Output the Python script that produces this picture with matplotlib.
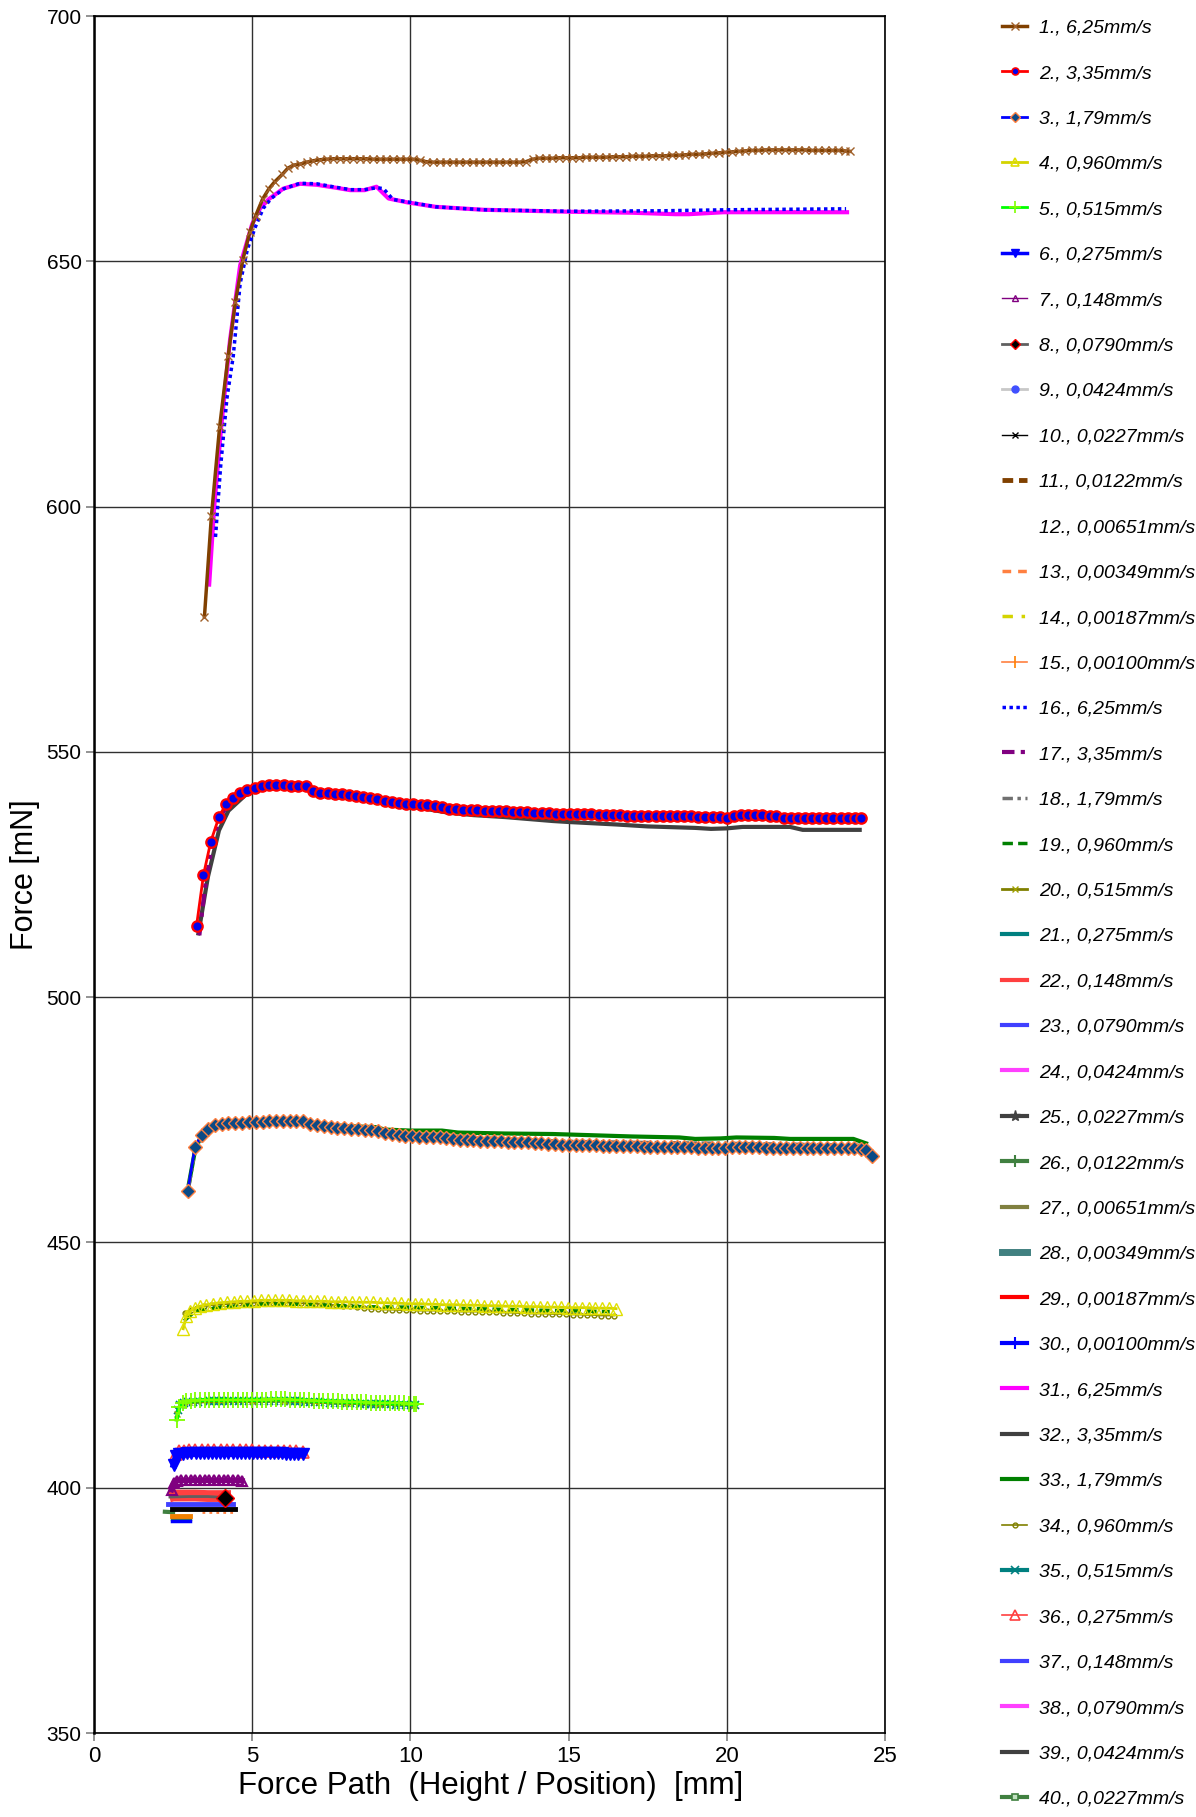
import matplotlib
matplotlib.use('Agg')
import matplotlib.pyplot as plt
from matplotlib.lines import Line2D

# ── Measured force curves: (path mm, force mN) ─────────────────────────

S1 = [(3.49, 577.5), (3.71, 598.0), (3.97, 616.2), (4.24, 630.7), (4.47, 641.8),
      (4.70, 650.2), (4.92, 655.9), (5.11, 659.3), (5.33, 662.7), (5.53, 664.8),
      (5.71, 666.2), (5.95, 667.7), (6.13, 669.0), (6.31, 669.6), (6.51, 669.8),
      (6.72, 670.2), (6.93, 670.5), (7.14, 670.7), (7.35, 670.8), (7.56, 670.9),
      (7.77, 670.9), (7.98, 670.9), (8.19, 670.9), (8.40, 670.9), (8.61, 670.9),
      (8.82, 670.8), (9.03, 670.8), (9.24, 670.8), (9.45, 670.8), (9.66, 670.8),
      (9.87, 670.8), (10.08, 670.8), (10.29, 670.6), (10.50, 670.3), (10.71, 670.2),
      (10.92, 670.2), (11.13, 670.2), (11.34, 670.2), (11.55, 670.2), (11.76, 670.2),
      (11.97, 670.2), (12.18, 670.2), (12.39, 670.2), (12.60, 670.2), (12.81, 670.2),
      (13.02, 670.2), (13.23, 670.2), (13.44, 670.2), (13.65, 670.3), (13.86, 670.8),
      (14.07, 671.0), (14.28, 671.0), (14.49, 671.0), (14.70, 671.1), (14.91, 671.1),
      (15.12, 671.1), (15.33, 671.1), (15.54, 671.2), (15.75, 671.2), (15.96, 671.2),
      (16.17, 671.2), (16.38, 671.3), (16.59, 671.3), (16.80, 671.3), (17.01, 671.4),
      (17.22, 671.4), (17.43, 671.4), (17.64, 671.5), (17.85, 671.5), (18.06, 671.5),
      (18.27, 671.6), (18.48, 671.6), (18.69, 671.7), (18.90, 671.8), (19.11, 671.8),
      (19.32, 671.9), (19.53, 672.0), (19.74, 672.1), (19.95, 672.2), (20.16, 672.3),
      (20.37, 672.4), (20.58, 672.5), (20.79, 672.6), (21.00, 672.6), (21.21, 672.7),
      (21.42, 672.7), (21.63, 672.7), (21.84, 672.7), (22.05, 672.7), (22.26, 672.7),
      (22.47, 672.7), (22.68, 672.6), (22.89, 672.6), (23.10, 672.6), (23.31, 672.6),
      (23.52, 672.6), (23.73, 672.5), (23.90, 672.4)]

S16 = [(3.84, 593.8), (4.00, 608.0), (4.20, 622.0), (4.40, 630.6), (4.62, 645.5),
       (4.85, 652.5), (5.10, 657.0), (5.35, 660.8), (5.60, 662.8), (6.00, 664.8),
       (6.51, 665.9), (7.04, 665.8), (7.64, 665.1), (8.10, 664.6), (8.55, 664.6),
       (8.95, 665.0), (9.15, 664.8), (9.45, 662.6), (9.91, 662.1), (10.80, 661.1),
       (12.30, 660.5), (15.00, 660.2), (18.00, 660.3), (20.00, 660.5), (23.77, 660.7)]

S31 = [(3.64, 584.1), (3.80, 600.0), (4.02, 616.2), (4.30, 634.0), (4.62, 649.2),
       (5.00, 657.6), (5.25, 660.8), (5.53, 662.7), (5.98, 664.8), (6.51, 665.8),
       (7.04, 665.6), (7.64, 665.0), (8.10, 664.5), (8.55, 664.5), (8.93, 665.2),
       (9.31, 662.8), (9.91, 662.0), (10.80, 661.1), (12.30, 660.5), (15.00, 660.1),
       (17.00, 659.9), (18.37, 659.6), (18.80, 659.6), (19.90, 660.0), (23.80, 660.0)]

S2 = [(3.24, 514.5), (3.46, 524.9), (3.69, 531.7), (3.95, 536.7), (4.17, 539.4),
      (4.40, 540.6), (4.62, 541.7), (4.85, 542.3), (5.08, 542.7), (5.30, 543.0),
      (5.53, 543.2), (5.75, 543.2), (6.01, 543.2), (6.24, 543.0), (6.46, 543.0),
      (6.69, 543.1), (6.93, 542.0), (7.15, 541.7), (7.38, 541.6), (7.61, 541.5),
      (7.83, 541.4), (8.06, 541.2), (8.28, 541.0), (8.51, 540.8), (8.73, 540.6),
      (8.96, 540.3), (9.19, 540.0), (9.41, 539.7), (9.64, 539.6), (9.86, 539.4),
      (10.09, 539.3), (10.32, 539.2), (10.54, 539.1), (10.77, 539.0), (10.99, 538.7),
      (11.22, 538.4), (11.45, 538.3), (11.67, 538.2), (11.90, 538.1), (12.12, 538.1),
      (12.35, 538.0), (12.57, 538.0), (12.80, 537.9), (13.02, 537.9), (13.25, 537.8),
      (13.47, 537.8), (13.70, 537.7), (13.92, 537.6), (14.15, 537.5), (14.37, 537.5),
      (14.60, 537.4), (14.82, 537.4), (15.05, 537.4), (15.27, 537.3), (15.50, 537.3),
      (15.72, 537.3), (15.95, 537.2), (16.17, 537.2), (16.40, 537.1), (16.62, 537.1),
      (16.85, 537.0), (17.07, 537.0), (17.30, 537.0), (17.52, 537.0), (17.75, 536.9),
      (17.97, 536.9), (18.20, 536.9), (18.42, 536.9), (18.65, 536.9), (18.87, 536.9),
      (19.10, 536.8), (19.32, 536.8), (19.55, 536.8), (19.77, 536.7), (20.00, 536.6),
      (20.22, 537.0), (20.45, 537.1), (20.67, 537.1), (20.90, 537.1), (21.12, 537.1),
      (21.35, 537.0), (21.57, 537.0), (21.80, 536.6), (22.02, 536.5), (22.25, 536.5),
      (22.47, 536.5), (22.70, 536.5), (22.92, 536.5), (23.15, 536.5), (23.37, 536.5),
      (23.60, 536.5), (23.82, 536.5), (24.05, 536.5), (24.25, 536.5)]

S17 = [(3.33, 512.6), (3.50, 522.0), (3.75, 532.0), (4.00, 537.0), (4.40, 540.5),
       (5.00, 542.6), (6.00, 543.1), (6.70, 543.0), (7.00, 541.9), (10.00, 539.3),
       (15.00, 537.3), (20.00, 536.7), (24.20, 536.5)]

S32 = [(3.30, 513.0), (3.60, 524.5), (3.95, 534.0), (4.25, 538.0), (4.77, 541.1),
       (5.30, 542.6), (6.00, 543.1), (6.69, 543.0), (6.93, 542.0), (8.00, 541.0),
       (9.00, 540.0), (10.00, 538.9), (11.20, 537.6), (12.00, 537.1), (13.00, 536.7),
       (14.50, 535.9), (15.00, 535.7), (16.50, 535.2), (17.50, 534.8), (19.00, 534.5),
       (19.50, 534.3), (20.00, 534.4), (20.50, 534.7), (22.00, 534.7), (22.40, 534.1),
       (24.20, 534.1)]

S3 = [(2.96, 460.4), (3.19, 469.4), (3.40, 472.0), (3.61, 473.2), (3.82, 473.9),
      (4.04, 474.2), (4.25, 474.3), (4.47, 474.4), (4.68, 474.4), (4.90, 474.5),
      (5.11, 474.5), (5.33, 474.6), (5.54, 474.7), (5.76, 474.7), (5.97, 474.8),
      (6.19, 474.8), (6.40, 474.8), (6.62, 474.7), (6.83, 474.2), (7.05, 473.9),
      (7.26, 473.7), (7.48, 473.5), (7.69, 473.4), (7.91, 473.3), (8.12, 473.2),
      (8.34, 473.1), (8.55, 473.0), (8.77, 472.9), (8.98, 472.7), (9.20, 472.3),
      (9.41, 472.1), (9.63, 471.9), (9.84, 471.7), (10.06, 471.6), (10.27, 471.5),
      (10.49, 471.5), (10.70, 471.5), (10.92, 471.5), (11.13, 471.3), (11.35, 471.0),
      (11.56, 470.9), (11.78, 470.8), (11.99, 470.8), (12.21, 470.7), (12.42, 470.7),
      (12.64, 470.6), (12.85, 470.6), (13.07, 470.5), (13.28, 470.5), (13.50, 470.4),
      (13.71, 470.4), (13.93, 470.3), (14.14, 470.2), (14.36, 470.1), (14.57, 470.0),
      (14.79, 469.9), (15.00, 469.9), (15.22, 469.8), (15.43, 469.8), (15.65, 469.8),
      (15.86, 469.8), (16.08, 469.7), (16.29, 469.7), (16.51, 469.7), (16.72, 469.6),
      (16.94, 469.6), (17.15, 469.6), (17.37, 469.5), (17.58, 469.5), (17.80, 469.5),
      (18.01, 469.5), (18.23, 469.4), (18.44, 469.4), (18.66, 469.4), (18.87, 469.4),
      (19.09, 469.3), (19.30, 469.3), (19.52, 469.3), (19.73, 469.3), (19.95, 469.3),
      (20.16, 469.5), (20.38, 469.5), (20.59, 469.5), (20.81, 469.4), (21.02, 469.4),
      (21.24, 469.3), (21.45, 469.3), (21.67, 469.2), (21.88, 469.2), (22.10, 469.2),
      (22.31, 469.2), (22.53, 469.2), (22.74, 469.2), (22.96, 469.2), (23.17, 469.2),
      (23.39, 469.2), (23.60, 469.2), (23.82, 469.2), (24.03, 469.2), (24.25, 469.1),
      (24.40, 468.8), (24.58, 467.6)]

S18 = [(3.00, 461.5), (3.20, 469.0), (3.60, 473.0), (4.50, 474.4), (6.50, 474.8),
       (7.00, 474.0), (9.00, 472.8), (10.50, 471.9), (13.00, 471.1), (15.00, 470.6),
       (17.00, 470.4), (20.00, 470.2), (24.30, 469.8)]

S33 = [(3.00, 462.0), (3.20, 469.0), (3.40, 471.8), (3.80, 473.6), (4.50, 474.3),
       (5.50, 474.6), (6.60, 474.7), (7.00, 474.2), (8.00, 473.7), (8.90, 473.5),
       (9.20, 473.0), (10.00, 472.8), (11.00, 472.8), (11.50, 472.4), (13.00, 472.2),
       (14.50, 472.1), (15.50, 471.9), (17.00, 471.6), (18.50, 471.4), (19.00, 471.1),
       (19.80, 471.2), (20.30, 471.4), (21.50, 471.3), (22.00, 471.1), (24.00, 471.1),
       (24.40, 470.2)]

S4 = [(2.82, 432.4), (2.92, 435.0), (3.03, 436.0), (3.18, 436.6), (3.35, 437.0),
      (3.55, 437.3), (3.75, 437.5), (3.97, 437.7), (4.19, 437.8), (4.41, 437.9),
      (4.63, 438.0), (4.85, 438.0), (5.07, 438.1), (5.29, 438.2), (5.51, 438.2),
      (5.73, 438.2), (5.95, 438.2), (6.17, 438.2), (6.39, 438.1), (6.61, 438.1),
      (6.83, 438.0), (7.05, 438.0), (7.27, 438.0), (7.49, 437.9), (7.71, 437.9),
      (7.93, 437.9), (8.15, 437.8), (8.37, 437.8), (8.59, 437.8), (8.81, 437.8),
      (9.03, 437.7), (9.25, 437.7), (9.47, 437.6), (9.69, 437.6), (9.91, 437.5),
      (10.13, 437.5), (10.35, 437.5), (10.57, 437.4), (10.79, 437.4), (11.01, 437.3),
      (11.23, 437.3), (11.45, 437.3), (11.67, 437.2), (11.89, 437.2), (12.11, 437.2),
      (12.33, 437.1), (12.55, 437.1), (12.77, 437.1), (12.99, 437.0), (13.21, 437.0),
      (13.43, 437.0), (13.65, 436.9), (13.87, 436.9), (14.09, 436.9), (14.31, 436.8),
      (14.53, 436.8), (14.75, 436.8), (14.97, 436.7), (15.19, 436.7), (15.41, 436.7),
      (15.63, 436.7), (15.85, 436.6), (16.07, 436.6), (16.29, 436.6), (16.50, 436.5)]

S19 = [(2.85, 434.0), (3.20, 436.0), (4.00, 436.8), (5.50, 437.5), (7.00, 437.3),
       (8.50, 436.9), (10.00, 436.8), (12.00, 436.5), (14.00, 436.2), (16.30, 435.9)]

S34 = [(2.87, 435.6), (3.05, 436.3), (3.25, 436.7), (3.47, 437.0), (3.69, 437.2),
       (3.91, 437.3), (4.13, 437.4), (4.35, 437.5), (4.57, 437.6), (4.79, 437.6),
       (5.01, 437.7), (5.23, 437.7), (5.45, 437.7), (5.67, 437.7), (5.89, 437.7),
       (6.11, 437.7), (6.33, 437.7), (6.55, 437.6), (6.77, 437.6), (6.99, 437.5),
       (7.21, 437.4), (7.43, 437.3), (7.65, 437.2), (7.87, 437.1), (8.09, 437.0),
       (8.31, 436.8), (8.53, 436.6), (8.75, 436.5), (8.97, 436.4), (9.19, 436.3),
       (9.41, 436.3), (9.63, 436.2), (9.85, 436.2), (10.07, 436.2), (10.29, 436.1),
       (10.51, 436.1), (10.73, 436.1), (10.95, 436.0), (11.17, 436.0), (11.39, 436.0),
       (11.61, 435.9), (11.83, 435.9), (12.05, 435.9), (12.27, 435.8), (12.49, 435.8),
       (12.71, 435.8), (12.93, 435.7), (13.15, 435.7), (13.37, 435.6), (13.59, 435.6),
       (13.81, 435.5), (14.03, 435.5), (14.25, 435.5), (14.47, 435.4), (14.69, 435.4),
       (14.91, 435.4), (15.13, 435.3), (15.35, 435.3), (15.57, 435.2), (15.79, 435.2),
       (16.01, 435.1), (16.23, 435.1), (16.45, 435.1)]

S5 = [(2.61, 413.9), (2.70, 416.4), (2.80, 417.3), (2.92, 417.6), (3.05, 417.7),
      (3.20, 417.8), (3.35, 417.8), (3.50, 417.9), (3.65, 417.9), (3.80, 417.9),
      (3.95, 417.9), (4.10, 417.9), (4.25, 417.9), (4.40, 417.9), (4.55, 417.9),
      (4.70, 417.9), (4.85, 417.9), (5.00, 417.9), (5.15, 417.9), (5.30, 417.9),
      (5.45, 417.9), (5.60, 418.0), (5.75, 418.0), (5.90, 418.0), (6.05, 418.0),
      (6.20, 417.9), (6.35, 417.9), (6.50, 417.9), (6.65, 417.8), (6.80, 417.8),
      (6.95, 417.7), (7.10, 417.7), (7.25, 417.7), (7.40, 417.6), (7.55, 417.6),
      (7.70, 417.6), (7.85, 417.5), (8.00, 417.5), (8.15, 417.5), (8.30, 417.4),
      (8.45, 417.4), (8.60, 417.4), (8.75, 417.3), (8.90, 417.3), (9.05, 417.3),
      (9.20, 417.3), (9.35, 417.2), (9.50, 417.2), (9.65, 417.2), (9.80, 417.2),
      (9.95, 417.1), (10.10, 417.1), (10.19, 417.1)]

S20 = [(2.63, 415.0), (2.75, 416.9), (3.00, 417.4), (4.00, 417.6), (5.00, 417.6),
       (6.00, 417.7), (7.00, 417.4), (8.00, 417.2), (9.00, 417.0), (10.10, 416.9)]

S35 = [(2.64, 415.8), (2.72, 416.8), (2.84, 417.2), (2.98, 417.4), (3.14, 417.5),
       (3.30, 417.5), (3.46, 417.6), (3.62, 417.6), (3.78, 417.6), (3.94, 417.6),
       (4.10, 417.6), (4.26, 417.6), (4.42, 417.6), (4.58, 417.6), (4.74, 417.6),
       (4.90, 417.6), (5.06, 417.6), (5.22, 417.6), (5.38, 417.6), (5.54, 417.7),
       (5.70, 417.7), (5.86, 417.7), (6.02, 417.7), (6.18, 417.6), (6.34, 417.6),
       (6.50, 417.6), (6.66, 417.5), (6.82, 417.5), (6.98, 417.4), (7.14, 417.4),
       (7.30, 417.4), (7.46, 417.3), (7.62, 417.3), (7.78, 417.3), (7.94, 417.2),
       (8.10, 417.2), (8.26, 417.2), (8.42, 417.1), (8.58, 417.1), (8.74, 417.1),
       (8.90, 417.0), (9.06, 417.0), (9.22, 417.0), (9.38, 417.0), (9.54, 416.9),
       (9.70, 416.9), (9.86, 416.9), (10.02, 416.9), (10.15, 416.9)]

S6 = [(2.53, 404.7), (2.60, 406.4), (2.70, 406.8), (2.82, 406.9), (2.95, 407.0),
      (3.08, 407.0), (3.21, 407.0), (3.34, 407.0), (3.47, 407.0), (3.60, 407.0),
      (3.73, 407.0), (3.86, 407.0), (3.99, 407.0), (4.12, 407.0), (4.25, 407.0),
      (4.38, 407.0), (4.51, 407.0), (4.64, 407.0), (4.77, 407.0), (4.90, 407.0),
      (5.03, 407.0), (5.16, 407.0), (5.29, 407.0), (5.42, 407.0), (5.55, 407.0),
      (5.68, 407.0), (5.81, 407.0), (5.94, 407.0), (6.07, 406.9), (6.20, 406.9),
      (6.33, 406.9), (6.46, 406.9), (6.60, 406.9)]

S21 = [(2.55, 405.5), (2.70, 406.8), (3.50, 407.0), (5.00, 407.0), (6.60, 406.9)]

S36 = [(2.60, 406.8), (2.70, 407.4), (2.85, 407.5), (3.00, 407.6), (3.20, 407.6),
       (3.40, 407.6), (3.60, 407.6), (3.80, 407.6), (4.00, 407.6), (4.20, 407.6),
       (4.40, 407.6), (4.60, 407.6), (4.80, 407.6), (5.00, 407.6), (5.20, 407.5),
       (5.40, 407.5), (5.60, 407.5), (5.80, 407.5), (6.00, 407.5), (6.20, 407.4),
       (6.40, 407.4), (6.62, 407.3)]

S7 = [(2.45, 399.6), (2.52, 400.9), (2.62, 401.4), (2.75, 401.5), (2.90, 401.5),
      (3.05, 401.5), (3.20, 401.5), (3.35, 401.5), (3.50, 401.5), (3.65, 401.5),
      (3.80, 401.5), (3.95, 401.5), (4.10, 401.5), (4.25, 401.5), (4.40, 401.5),
      (4.55, 401.5), (4.68, 401.4)]

S22 = [(2.38, 398.2), (2.50, 398.4), (2.80, 398.4), (3.20, 398.4), (3.60, 398.3),
       (4.00, 398.3), (4.33, 398.3)]

S8 = [(2.40, 398.1), (3.00, 398.2), (3.60, 398.2), (4.14, 398.0)]

S37 = [(2.35, 396.6), (2.80, 396.6), (3.40, 396.6), (4.00, 396.6), (4.40, 396.6)]

S10 = [(2.45, 395.7), (3.00, 395.7), (3.60, 395.7), (4.10, 395.7), (4.45, 395.7)]

S15 = [(3.40, 395.1), (3.80, 395.1), (4.20, 395.1), (4.45, 395.1)]

S26 = [(2.24, 395.1), (2.50, 395.0)]

S13 = [(2.45, 394.3), (2.75, 394.3), (3.03, 394.3)]

S40 = [(2.45, 393.7), (2.75, 393.7), (3.03, 393.7)]

S30 = [(2.45, 393.2), (2.75, 393.2), (3.03, 393.2)]

RATES = ['6,25', '3,35', '1,79', '0,960', '0,515', '0,275', '0,148', '0,0790',
         '0,0424', '0,0227', '0,0122', '0,00651', '0,00349', '0,00187', '0,00100']
LABELS = [f'{i + 1}., {RATES[i % 15]}mm/s' for i in range(40)]

X_TICKS = [0, 5, 10, 15, 20, 25]
Y_TICKS = [350, 400, 450, 500, 550, 600, 650, 700]

# ── line styles per series (legend entries) ─────────────────────────────

STYLES = {
    1: dict(color='#804000', lw=2.5, marker='x', ms=6, mec='#a0602a', mew=1.0),
    2: dict(color='#ff0000', lw=2.0, marker='o', ms=5, mfc='#0000ee', mec='#ff0000', mew=1.2),
    3: dict(color='#0000ff', lw=2.0, marker='D', ms=5, mfc='#0b4a86', mec='#ff8040', mew=1.0),
    4: dict(color='#d4d400', lw=2.0, marker='^', ms=6, mfc='none', mec='#e0e000', mew=1.2),
    5: dict(color='#00ff00', lw=2.0, marker='+', ms=9, mec='#80ff00', mew=1.2),
    6: dict(color='#0000ff', lw=2.5, marker='v', ms=6, mfc='#0000ff', mec='#0000ff'),
    7: dict(color='#800080', lw=1.0, marker='^', ms=5, mfc='none', mec='#800080', mew=1.0),
    8: dict(color='#606060', lw=2.0, marker='D', ms=5, mfc='#000000', mec='#ff0000', mew=1.0),
    9: dict(color='#c8c8c8', lw=2.0, marker='o', ms=5, mfc='#4050ff', mec='#4050ff'),
    10: dict(color='#000000', lw=1.0, marker='x', ms=4, mec='#000000', mew=1.0),
    11: dict(color='#804000', lw=3.5, ls=(0, (2.2, 1.2))),
    12: dict(color='#ffffff', lw=2.0),
    13: dict(color='#ff8040', lw=2.5, ls=(0, (2.5, 2.0))),
    14: dict(color='#d4d400', lw=2.5, ls=(0, (3, 2.5, 1, 2.5))),
    15: dict(color='#ff8040', lw=1.2, marker='|', ms=8, mec='#ff8000', mew=1.2),
    16: dict(color='#0000ff', lw=2.5, ls=(0, (1, 1))),
    17: dict(color='#800080', lw=3.0, ls=(0, (3, 1.5, 1, 1.5))),
    18: dict(color='#707070', lw=2.5, ls=(0, (3, 1.3, 1, 1.3, 1, 1.3))),
    19: dict(color='#008000', lw=2.5, ls=(0, (3, 1.5))),
    20: dict(color='#808000', lw=2.0, marker='x', ms=4, mec='#a0a000', mew=1.0),
    21: dict(color='#008080', lw=3.0),
    22: dict(color='#ff4040', lw=3.0),
    23: dict(color='#4040ff', lw=3.0),
    24: dict(color='#ff40ff', lw=3.0),
    25: dict(color='#404040', lw=3.0, marker='*', ms=8, mec='#404040', mfc='#404040'),
    26: dict(color='#408040', lw=3.0, marker='|', ms=9, mec='#408040', mew=1.5),
    27: dict(color='#808040', lw=3.0),
    28: dict(color='#408080', lw=5.0),
    29: dict(color='#ff0000', lw=3.0),
    30: dict(color='#0000ff', lw=3.0, marker='|', ms=9, mec='#0000ff', mew=1.5),
    31: dict(color='#ff00ff', lw=3.0),
    32: dict(color='#404040', lw=3.0),
    33: dict(color='#008000', lw=3.0),
    34: dict(color='#808000', lw=1.2, marker='o', ms=3.5, mfc='none', mec='#808000', mew=1.0),
    35: dict(color='#008080', lw=3.0, marker='x', ms=6, mec='#008080', mew=1.2),
    36: dict(color='#ff4040', lw=1.2, marker='^', ms=7, mfc='none', mec='#ff4040', mew=1.2),
    37: dict(color='#4040ff', lw=3.0),
    38: dict(color='#ff40ff', lw=3.0),
    39: dict(color='#404040', lw=3.0),
    40: dict(color='#408040', lw=3.0, marker='s', ms=5, mfc='#c0e0c0', mec='#408040', mew=1.2),
}

plt.rcParams['font.family'] = ['Liberation Sans', 'DejaVu Sans']

fig = plt.figure(figsize=(11.96, 18.17), dpi=100)
ax = fig.add_axes([94 / 1196, 1 - 1733 / 1817, 791 / 1196, 1717 / 1817])


def draw(n, pts, **over):
    xs, ys = zip(*pts)
    st = dict(STYLES[n])
    st.update(over)
    ax.plot(xs, ys, zorder=100 - n, **st)


# lower-numbered runs sit on top
draw(31, S31)
draw(16, S16)
draw(1, S1)

draw(32, S32)
draw(17, S17)
draw(2, S2, ms=7.5, mew=1.6)

draw(33, S33)
draw(18, S18)
draw(3, S3, ms=7.5, mew=1.0)

draw(34, S34)
draw(19, S19)
draw(4, S4, ms=9, mew=1.0)

draw(35, S35, lw=2.0)
draw(20, S20)
draw(5, S5, ms=12, mew=1.3, lw=3.0)

draw(36, S36, ms=9)
draw(21, S21)
draw(6, S6, ms=9, lw=5)

draw(7, S7, ms=7, lw=4, mew=1.5)
draw(22, S22, lw=8.5, solid_capstyle='butt')
draw(8, S8, ms=9, markevery=[len(S8) - 1])
draw(37, S37, lw=3.5)
draw(10, S10, lw=3.5, marker=None)
draw(15, S15, lw=2, ls=(0, (1, 1.5)), marker=None)
draw(26, S26, lw=3, marker=None)
draw(13, S13, lw=3.5, ls='-', color='#f08000')
draw(40, S40, lw=2.5, marker=None)
draw(30, S30, lw=2.5, marker=None)

ax.set_xlim(0, 25)
ax.set_ylim(350, 700)
ax.set_xticks(X_TICKS)
ax.set_yticks(Y_TICKS)
ax.grid(True, color='#303030', lw=1.0)
ax.set_axisbelow(True)
for sp in ax.spines.values():
    sp.set_color('#000000')
    sp.set_linewidth(1.2)
ax.spines['left'].set_linewidth(1.8)
ax.tick_params(axis='both', direction='out', length=6, width=1.2, color='#808080',
               labelsize=15, pad=3)
ax.tick_params(axis='x', labelsize=16)

ax.set_ylabel('Force [mN]', fontsize=22, va='center')
ax.yaxis.set_label_coords(-0.0866, 0.5)
ax.set_xlabel('Force Path  (Height / Position)  [mm]', fontsize=22.5)
ax.xaxis.set_label_coords(0.502, -0.022)

handles = [Line2D([], [], **STYLES[i + 1]) for i in range(40)]
fig.legend(handles, LABELS, loc='upper left', bbox_to_anchor=(1002 / 1196, 1 - 19 / 1817),
           frameon=False, numpoints=1, handlelength=1.3, handletextpad=0.6,
           labelspacing=1.43, borderpad=0, borderaxespad=0,
           prop=dict(family='Liberation Sans', style='italic', size=14))

fig.savefig('out.png', dpi=100)
